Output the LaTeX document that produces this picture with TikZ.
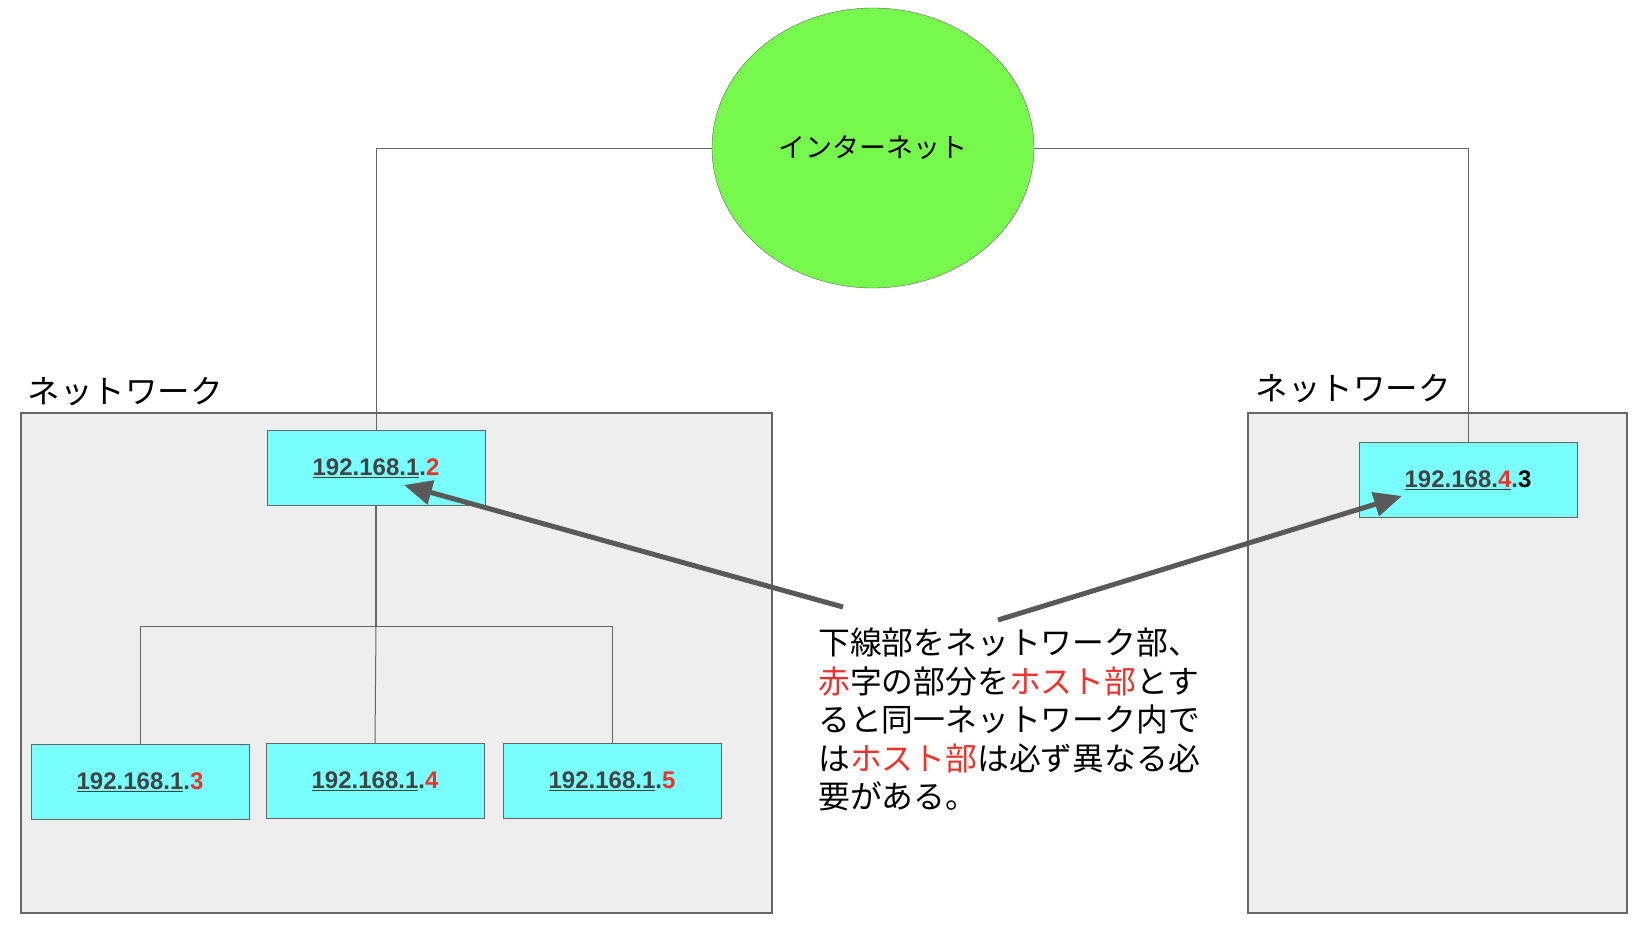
\documentclass[tikz,border=0pt]{standalone}
\usepackage{fontspec}
\setmainfont{Liberation Sans}
\newfontfamily\jpfont{Noto Sans CJK JP}
\usetikzlibrary{positioning,shapes.geometric,arrows.meta}
\definecolor{hostcyan}{HTML}{7AFFFF}
\definecolor{netgray}{HTML}{EEEEEE}
\definecolor{edgegray}{HTML}{666666}
\definecolor{arrowgray}{HTML}{595959}
\definecolor{hostred}{HTML}{F0302A}
\definecolor{ipgray}{HTML}{434343}
\definecolor{inetgreen}{RGB}{118,248,76}
\newcommand{\hostpart}[1]{\textcolor{hostred}{#1}}
\tikzset{
  host/.style={draw=edgegray, fill=hostcyan, minimum width=218pt, minimum height=75pt, font=\fontsize{24}{24}\selectfont\bfseries, text=ipgray},
  netbox/.style={draw=edgegray, fill=netgray, line width=1.2pt},
  netlabel/.style={font=\jpfont\fontsize{32.5}{32.5}\selectfont, anchor=base west},
  pointer/.style={draw=arrowgray, line width=5pt, -{Triangle[length=28pt,width=24pt]}}
}
\begin{document}
\begin{tikzpicture}[x=1pt,y=-1pt]
\def\LINECOLOR{edgegray}
	\useasboundingbox (0,0) rectangle (1646,926);
	\fill[white] (0,0) rectangle (1646,926);
	\draw[netbox] (21,413) rectangle (772,913);
	\draw[netbox] (1248,413) rectangle (1627,913);
	\node[netlabel] (netleft) at (24,403) {ネットワーク};
	\node[netlabel] (netright) at (1252,400) {ネットワーク};
	\node[ellipse, draw=edgegray, fill=inetgreen, minimum width=322pt, minimum height=280pt, font=\jpfont\fontsize{27}{27}\selectfont] (inet) at (873,148) {インターネット};
	\node[host] (h2) at (376,468) {\underline{192.168.1}.\hostpart{2}};
	\node[host] (h3) at (140,782) {\underline{192.168.1}.\hostpart{3}};
	\node[host] (h4) at (375,781) {\underline{192.168.1}.\hostpart{4}};
	\node[host] (h5) at (612,781) {\underline{192.168.1}.\hostpart{5}};
	\node[host] (r3) at (1468,480) {\underline{192.168.\hostpart{4}}.\textcolor{black}{3}};
	\coordinate (branch) at (376,626);
	\draw[\LINECOLOR, line width=1pt] (inet.west) -| (h2.north);
	\draw[\LINECOLOR, line width=1pt] (inet.east) -| (r3.north);
	\draw[\LINECOLOR, line width=2.5pt] (h2.south) -- (branch);
	\draw[\LINECOLOR, line width=1pt] (branch) -| (h3.north);
	\draw[\LINECOLOR, line width=1pt] (branch) -| (h5.north);
	\draw[\LINECOLOR, line width=1pt] (branch) -- (h4.north);
	\node[font=\jpfont\fontsize{31.8}{38.5}\selectfont, align=left, anchor=north west, inner sep=0pt] (note) at (818,628) {下線部をネットワーク部、\\\hostpart{赤}字の部分を\hostpart{ホスト部}とす\\ると同一ネットワーク内で\\は\hostpart{ホスト部}は必ず異なる必\\要がある。};
	\coordinate (tailleft) at (843,607);
	\coordinate (tailright) at (998,620);
	\draw[pointer] (tailleft) -- (404,485);
	\draw[pointer] (tailright) -- (1402,496);
\end{tikzpicture}
\end{document}
